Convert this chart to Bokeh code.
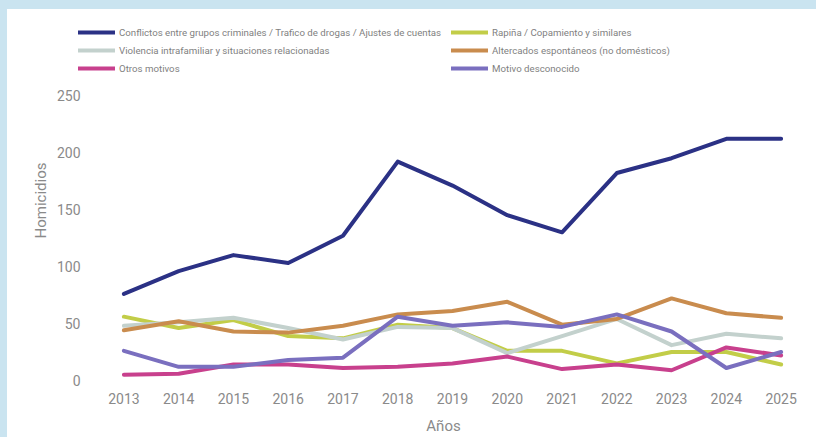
from bokeh.plotting import figure
from bokeh.layouts import column
from bokeh.models import Range1d, Legend, LegendItem, FixedTicker
from bokeh.embed import file_html
from bokeh.resources import INLINE

years = list(range(2013, 2026))
conflictos = [76, 96, 110, 103, 127, 192, 171, 145, 130, 182, 195, 212, 212]
rapina = [56, 46, 53, 39, 37, 49, 46, 26, 26, 15, 25, 25, 14]
violencia = [48, 51, 55, 46, 36, 47, 46, 24, 39, 54, 31, 41, 37]
altercados = [44, 52, 43, 42, 48, 58, 61, 69, 49, 54, 72, 59, 55]
otros = [5, 6, 14, 14, 11, 12, 15, 21, 10, 14, 9, 29, 22]
desconocido = [26, 12, 12, 18, 20, 56, 48, 51, 47, 58, 43, 11, 25]
y_ticks = [0, 50, 100, 150, 200, 250]

series = [
    ("Conflictos entre grupos criminales / Trafico de drogas / Ajustes de cuentas", conflictos, "#2b3185"),
    ("Rapiña / Copamiento y similares", rapina, "#c2cd48"),
    ("Violencia intrafamiliar y situaciones relacionadas", violencia, "#c3d1cd"),
    ("Altercados espontáneos (no domésticos)", altercados, "#c98c4e"),
    ("Otros motivos", otros, "#c8408d"),
    ("Motivo desconocido", desconocido, "#7a6fbf"),
]

FONT = "Roboto"
GRAY = "#8a8a8a"
PAGE_BG = "#cae4f0"

# the frame reaches up to hold the legend; y ticks only go to 250
p = figure(width=809, height=428, output_backend="svg", toolbar_location=None,
           x_range=Range1d(2012.025, 2025.646), y_range=Range1d(0, 315.8),
           min_border_left=63, min_border_right=0, min_border_top=11, min_border_bottom=57,
           margin=(9, 0, 0, 7))
p.outline_line_color = None
p.grid.visible = False
p.background_fill_color = "white"
p.border_fill_color = "white"

items = []
for name, vals, color in series:
    r = p.line(years, vals, line_color=color, line_width=4, line_join="round", line_cap="round")
    items.append(LegendItem(label=name, renderers=[r]))

for ax in (p.xaxis[0], p.yaxis[0]):
    ax.axis_line_color = None
    ax.major_tick_line_color = None
    ax.minor_tick_line_color = None
    ax.major_tick_out = 0
    ax.major_tick_in = 0
    ax.minor_tick_out = 0
    ax.minor_tick_in = 0
    ax.major_label_text_font = FONT
    ax.major_label_text_font_size = "14px"
    ax.major_label_text_color = GRAY
    ax.axis_label_text_font = FONT
    ax.axis_label_text_font_size = "15px"
    ax.axis_label_text_font_style = "normal"
    ax.axis_label_text_color = GRAY

p.xaxis.ticker = FixedTicker(ticks=years)
p.yaxis.ticker = FixedTicker(ticks=y_ticks)
p.xaxis.axis_label = "Años"
p.yaxis.axis_label = "Homicidios"
p.xaxis.major_label_standoff = 12
p.xaxis.axis_label_standoff = 10
p.yaxis.major_label_standoff = -10
p.yaxis.axis_label_standoff = 4

legend = Legend(items=items, orientation="horizontal", ncols=2,
                location=(8, 305), padding=0, margin=0, spacing=4,
                glyph_width=37, glyph_height=14, label_height=14, label_standoff=4,
                label_width=328,
                label_text_font=FONT, label_text_font_size="9.7px",
                label_text_color="#7f7f7f", border_line_color=None,
                background_fill_alpha=0)
p.add_layout(legend, "center")

page = column(p, spacing=0, styles={
    "background-color": "#ffffff",
    "background-repeat": "no-repeat",
    "background-image": "linear-gradient(to right, %s 7px, rgba(255,255,255,0) 7px), "
                        "linear-gradient(to bottom, %s 9px, rgba(255,255,255,0) 9px)" % (PAGE_BG, PAGE_BG)})

open("out.html", "w").write(file_html(page, INLINE))
